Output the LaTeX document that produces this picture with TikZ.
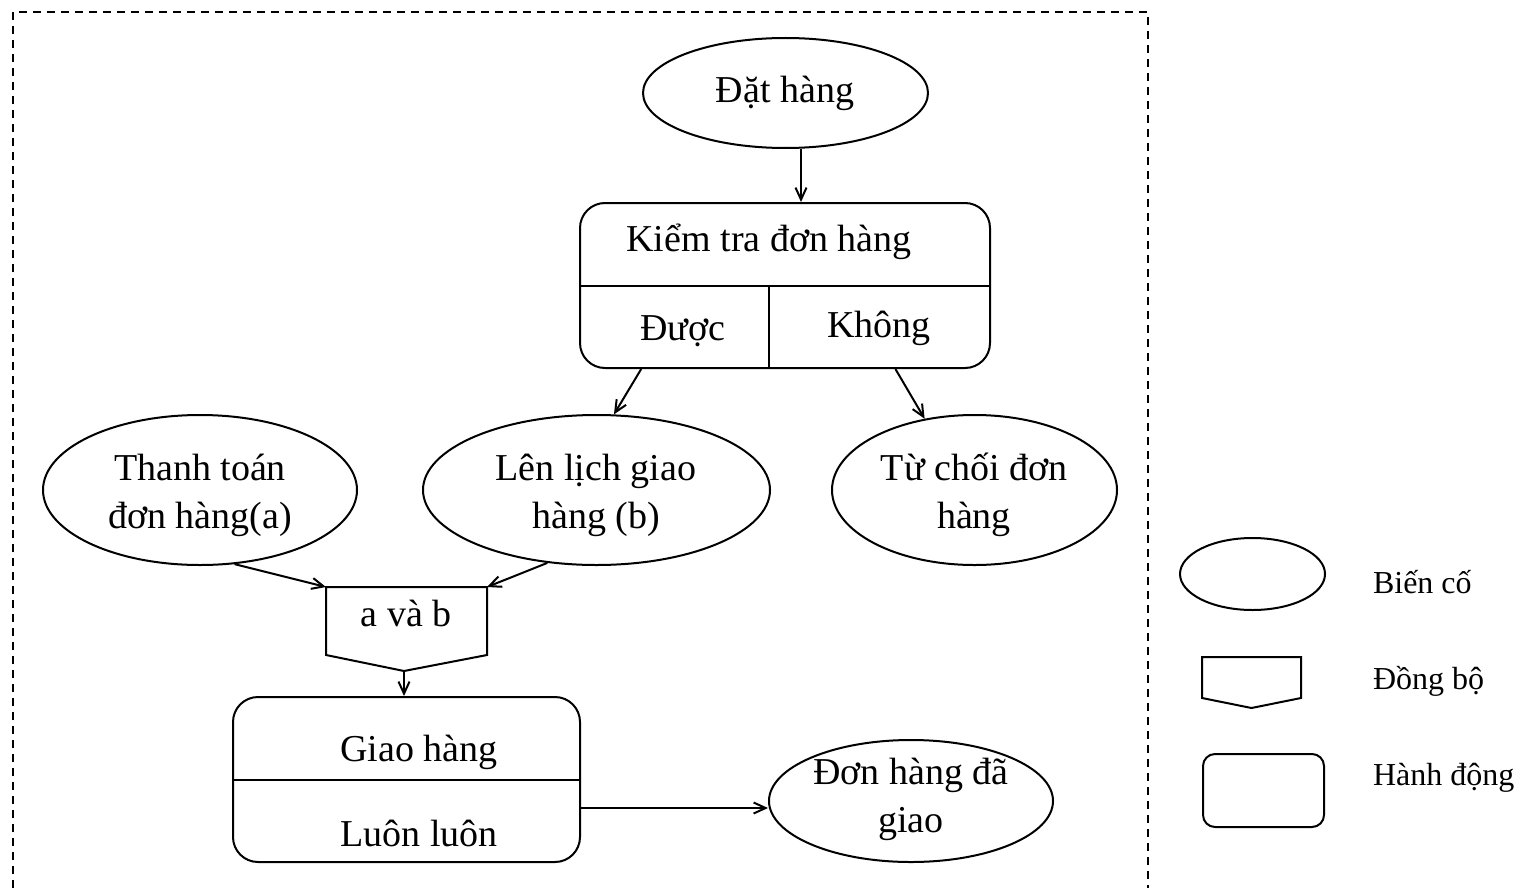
\documentclass[tikz,border=0pt]{standalone}
\usepackage{fontspec}
\setmainfont{Liberation Serif}
\usetikzlibrary{calc,shapes.geometric,arrows.meta}

\begin{document}
\begin{tikzpicture}[x=0.5pt,y=-0.5pt,line width=1pt,
        font=\fontsize{19}{24}\selectfont,
        bienco/.style={draw,ellipse,inner sep=0pt},
        hanhdong/.style={draw,rounded corners=12.5pt,inner sep=0pt},
        dongbo/.style={inner sep=0pt},
        conn/.style={-{Straight Barb[length=6pt,width=5.5pt]}},
        lg/.style={anchor=west,inner sep=0pt,font=\fontsize{16}{20}\selectfont}]
        \useasboundingbox (0,0) rectangle (1518,888);
        \draw[dash pattern=on 4pt off 3pt] (13,888) -- (13,12) -- (1148,12) -- (1148,888);

        \node[bienco,minimum width=142.5pt,minimum height=55pt] (dathang) at (785.5,93) {};
        \node (dathangtxt) at (785,93) {Đặt hàng};

        \node[hanhdong,minimum width=205pt,minimum height=82.5pt] (kiemtra) at (785,285.5) {};
        \draw (kiemtra.west) -- (kiemtra.east);
        \draw ($(kiemtra.west)!0.461!(kiemtra.east)$) -- ($(kiemtra.south west)!0.461!(kiemtra.south east)$);
        \node (kttxt) at (769,242) {Kiểm tra đơn hàng};
        \node (duoc) at (683,331) {Được};
        \node (khong) at (879,328) {Không};

        \node[bienco,minimum width=157pt,minimum height=75pt] (thanhtoan) at (200,490) {};
        \node[align=center] (thanhtoantxt) at (200,495) {Thanh toán\\đơn hàng(a)};
        \node[bienco,minimum width=173.5pt,minimum height=75pt] (lenlich) at (596.5,490) {};
        \node[align=center] (lenlichtxt) at (596,495) {Lên lịch giao\\hàng (b)};
        \node[bienco,minimum width=142.5pt,minimum height=75pt] (tuchoi) at (974.5,490) {};
        \node[align=center] (tuchoitxt) at (974,495) {Từ chối đơn\\hàng};

        \node[dongbo,minimum width=79.5pt,minimum height=33pt] (avab) at (406.5,621) {};
        \coordinate (avab-tip) at ($(avab.south)+(-2.5,16)$);
        \draw (avab.south west) -- (avab.north west) -- (avab.north east) -- (avab.south east) -- (avab-tip) -- cycle;
        \node (avabtxt) at (406,613) {a và b};

        \node[hanhdong,minimum width=173.5pt,minimum height=82.5pt] (giao) at (406.5,779.5) {};
        \draw (giao.west) -- (giao.east);
        \node (giaotxt) at (419,752) {Giao hàng};
        \node (luonluon) at (419,833) {Luôn luôn};

        \node[bienco,minimum width=142pt,minimum height=61pt] (dagiao) at (911,801) {};
        \node[align=center] (dagiaotxt) at (911,799) {Đơn hàng đã\\giao};

        % chu thich
        \node[draw,ellipse,minimum width=72.5pt,minimum height=36pt] (lgbienco) at (1252.5,574) {};
        \node[lg] (lgbiencotxt) at (1372,582) {Biến cố};
        \node[dongbo,minimum width=48.5pt,minimum height=19.5pt] (lgdongbo) at (1251.5,677.5) {};
        \coordinate (lgdongbo-tip) at ($(lgdongbo.south)+(0,10)$);
        \draw (lgdongbo.south west) -- (lgdongbo.north west) -- (lgdongbo.north east) -- (lgdongbo.south east) -- (lgdongbo-tip) -- cycle;
        \node[lg] (lgdongbotxt) at (1372,681) {Đồng bộ};
        \node[draw,rounded corners=6pt,minimum width=60.5pt,minimum height=36.5pt] (lghanhdong) at (1263.5,790.5) {};
        \node[lg] (lghanhdongtxt) at (1372,778) {Hành động};

        \coordinate (d1) at ($(dathang.south)+(15.5,0)$);
        \draw[conn] (d1) -- (d1 |- kiemtra.north);
        \draw[conn] ($(kiemtra.south west)!0.151!(kiemtra.south east)$) -- (lenlich.77);
        \draw[conn] ($(kiemtra.south west)!0.768!(kiemtra.south east)$) -- (tuchoi.125);
        \draw[conn] (thanhtoan.-65) -- (avab.north west);
        \draw[conn] (lenlich.-124) -- (avab.north east);
        \draw[conn] (avab-tip) -- (avab-tip |- giao.north);
        \coordinate (g1) at ($(giao.east)+(0,28.5)$);
        \draw[conn] (g1) -- (g1 -| dagiao.west);
    \end{tikzpicture}
\end{document}
